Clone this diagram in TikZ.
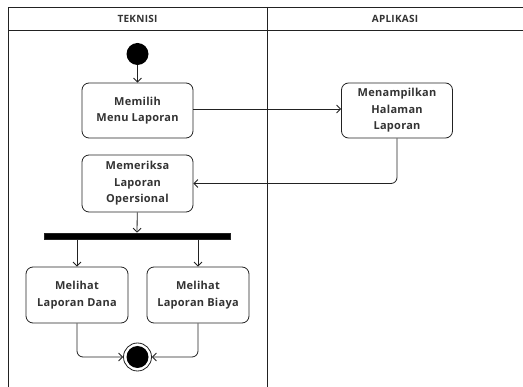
\documentclass[tikz,border=0pt]{standalone}
\usepackage{fontspec}
\setmainfont{Open Sans}[LetterSpace=2.5]
\usetikzlibrary{arrows.meta}
\definecolor{ink}{HTML}{222222}
\definecolor{txt}{HTML}{333333}
\tikzset{
  act/.style={draw=ink, line width=0.8pt, rounded corners=7pt, minimum width=111pt,
    minimum height=55pt, align=center, font=\fontsize{11}{16.5}\selectfont\bfseries, text=txt},
  flow/.style={draw=ink, line width=0.8pt, -{Straight Barb[length=4pt,width=8pt]}},
  lane/.style={draw=ink, line width=0.8pt},
  lanehead/.style={font=\fontsize{10}{11}\selectfont\bfseries, text=txt},
}
\begin{document}
\begin{tikzpicture}[x=1pt,y=-1pt]
  \useasboundingbox (0,0) rectangle (523,387);
  \fill[white] (0,0) rectangle (523,387);
  \begin{scope}
    \clip (0,0) rectangle (523,387);
    % swimlane frame
    \draw[lane] (8,7) rectangle (535,400);
    \draw[lane] (8,30) -- (535,30);
    \draw[lane] (267,7) -- (267,400);
  \end{scope}
  \node[lanehead] (hTek) at (137.5,18.5) {TEKNISI};
  \node[lanehead] (hApl) at (395,18.5) {APLIKASI};

  % initial node
  \node[circle, fill=black, minimum size=22pt, inner sep=0pt] (start) at (137.5,54) {};

  % actions
  \node[act] (memilih) at (137.5,110.5) {Memilih\\Menu Laporan};
  \node[act] (tampil) at (397,110.5) {Menampilkan\\Halaman\\Laporan};
  \node[act, minimum height=57pt] (periksa) at (137.5,183.5) {Memeriksa\\Laporan\\Opersional};

  % fork bar
  \node[fill=black, draw=ink, line width=0.6pt, minimum width=186pt, minimum height=6pt, inner sep=0pt] (fork) at (137,236) {};

  \node[act, minimum width=102pt, minimum height=56pt] (dana) at (77,295) {Melihat\\Laporan Dana};
  \node[act, minimum width=102pt, minimum height=56pt] (biaya) at (198,295) {Melihat\\Laporan Biaya};

  % final node
  \node[circle, draw=ink, line width=0.8pt, minimum size=28pt, inner sep=0pt] (final) at (137.5,357) {};
  \node[circle, fill=black, minimum size=22pt, inner sep=0pt] (finalin) at (final) {};

  % flows
  \draw[flow] (start) -- (memilih);
  \draw[flow] (memilih.east |- 0,109) -- (tampil.west |- 0,109);
  \draw[flow, rounded corners=6pt] (tampil.south) |- (periksa.east);
  \draw[flow] (periksa) -- (fork);
  \draw[flow] (fork.south -| dana.north) -- (dana.north);
  \draw[flow] (fork.south -| biaya.north) -- (biaya.north);
  \draw[flow, rounded corners=6pt] (dana.south) |- (final.west);
  \draw[flow, rounded corners=6pt] (biaya.south) |- (final.east);
\end{tikzpicture}
\end{document}
